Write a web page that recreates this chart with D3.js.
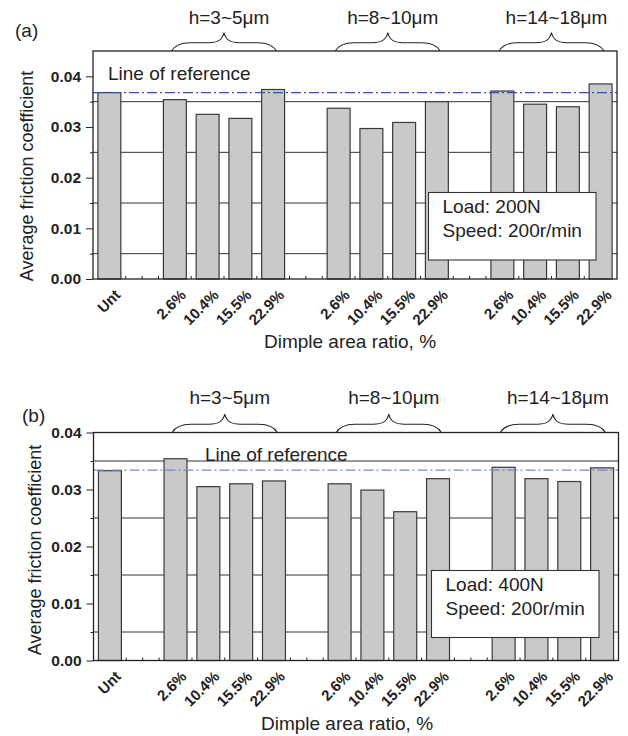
<!DOCTYPE html>
<html>
<head>
<meta charset="utf-8">
<script src="https://cdn.jsdelivr.net/npm/d3@7"></script>
<style>
  body { margin: 0; background: #fff; }
  svg text { font-family: "Liberation Sans", Arial, Helvetica, sans-serif; fill: #222; }
</style>
</head>
<body>
<div id="chart"></div>
<script>

// categories
const untreated = "Unt";
const ratioLabels = ["2.6%", "10.4%", "15.5%", "22.9%"];
const depthGroups = ["h=3~5μm", "h=8~10μm", "h=14~18μm"];

// average friction coefficient: Unt, then 4 ratios for each depth group
const friction200N = [0.0368, 0.0354, 0.0325, 0.0317, 0.0374, 0.0337, 0.0297, 0.0309, 0.0350, 0.0371, 0.0345, 0.0340, 0.0385];
const friction400N = [0.0333, 0.0354, 0.0305, 0.0310, 0.0315, 0.0310, 0.0299, 0.0261, 0.0319, 0.0339, 0.0319, 0.0314, 0.0338];
const referenceValues = [0.0368, 0.0334];

const yMaxValues = [0.045, 0.04];
const yTickValues = [0, 0.01, 0.02, 0.03, 0.04];
const panelTags = ["(a)", "(b)"];
const legendTexts = [["Load: 200N", "Speed: 200r/min"], ["Load: 400N", "Speed: 200r/min"]];

// slot keys for the x band scale (gaps between groups are empty slots)
const slotKeys = [untreated, "gap0"];
const barKeys = [untreated];
depthGroups.forEach((g, gi) => {
    ratioLabels.forEach(r => { slotKeys.push(gi + "|" + r); barKeys.push(gi + "|" + r); });
    if (gi < depthGroups.length - 1) slotKeys.push("gap" + (gi + 1));
});

const svg = d3.select("#chart").append("svg")
    .attr("width", 628)
    .attr("height", 736);

class FrictionPanel {

    constructor(svg, opts) {
        this.svg = svg;
        this.o = opts;
    }

    initVis() {
        let vis = this;
        let o = vis.o;
        vis.g = vis.svg.append("g");

        vis.x = d3.scaleBand()
            .domain(slotKeys)
            .range([o.left, o.right])
            .paddingInner(0.3)
            .paddingOuter(0.15);

        vis.y = d3.scaleLinear()
            .domain([0, o.yMax])
            .range([o.bottom, o.top]);

        vis.data = barKeys.map((k, i) => ({key: k, label: k.split("|").pop(), value: o.values[i]}));

        // horizontal lines half way between the labelled ticks
        let gridVals = d3.range(0.005, o.yMax - 0.0001, 0.01);
        vis.g.selectAll(".grid").data(gridVals).enter().append("line")
            .attr("class", "grid")
            .attr("x1", o.left).attr("x2", o.right)
            .attr("y1", d => vis.y(d)).attr("y2", d => vis.y(d))
            .attr("stroke", "#333").attr("stroke-width", 1);

        // y axis (major ticks outward, labels bold)
        let yAxis = vis.g.append("g")
            .attr("transform", "translate(" + o.left + ",0)")
            .call(d3.axisLeft(vis.y).tickValues(yTickValues).tickFormat(d3.format(".2f")).tickSize(7).tickPadding(5));
        yAxis.select(".domain").remove();
        yAxis.selectAll("line").attr("stroke", "#222");
        yAxis.selectAll("text")
            .style("font-size", "15.5px").style("font-weight", "bold").attr("fill", "#222");

        vis.g.append("g")
            .attr("transform", "translate(" + o.left + ",0)")
            .call(d3.axisLeft(vis.y).tickValues(gridVals).tickFormat("").tickSize(3))
            .call(a => a.select(".domain").remove())
            .selectAll("line").attr("stroke", "#222");

        // small inner ticks along the bottom
        let step = vis.x.step();
        let xTickPos = d3.range(0, slotKeys.length * 2 - 1).map(i => o.left + step * 0.5 + i * step / 2);
        vis.g.selectAll(".xtick").data(xTickPos).enter().append("line")
            .attr("x1", d => d).attr("x2", d => d)
            .attr("y1", o.bottom).attr("y2", o.bottom - 3)
            .attr("stroke", "#222");

        // bars
        vis.g.selectAll(".bar").data(vis.data).enter().append("rect")
            .attr("class", "bar")
            .attr("x", d => vis.x(d.key))
            .attr("width", vis.x.bandwidth())
            .attr("y", d => vis.y(d.value))
            .attr("height", d => vis.y(0) - vis.y(d.value))
            .attr("fill", "#c8c9cb")
            .attr("stroke", "#3a3a3a")
            .attr("stroke-width", 1.2);

        // reference line (dash-dot)
        vis.g.append("line")
            .attr("x1", o.left).attr("x2", o.right)
            .attr("y1", vis.y(o.ref)).attr("y2", vis.y(o.ref))
            .attr("stroke", o.refColor)
            .attr("stroke-width", 1.3)
            .attr("stroke-dasharray", "10,3,2,3");

        vis.g.append("text")
            .attr("x", o.refText[0]).attr("y", o.refText[1])
            .style("font-size", "19px")
            .text("Line of reference");

        // frame
        vis.g.append("rect")
            .attr("x", o.left).attr("y", o.top)
            .attr("width", o.right - o.left).attr("height", o.bottom - o.top)
            .attr("fill", "none").attr("stroke", "#222").attr("stroke-width", 1.3);

        // x labels
        vis.g.selectAll(".xlab").data(vis.data).enter().append("text")
            .attr("transform", d => "translate(" + (vis.x(d.key) + vis.x.bandwidth() / 2 + 12) + "," + (o.bottom + 17) + ") rotate(-45)")
            .attr("text-anchor", "end")
            .style("font-size", "15px").style("font-weight", "bold")
            .text(d => d.label);

        // braces + depth group labels
        depthGroups.forEach((g, gi) => {
            let first = vis.x(gi + "|" + ratioLabels[0]) + vis.x.bandwidth() / 2;
            let last = vis.x(gi + "|" + ratioLabels[ratioLabels.length - 1]) + vis.x.bandwidth() / 2;
            let xm = (first + last) / 2;
            let x1 = xm - 1.6 * step, x2 = xm + 1.6 * step;
            vis.g.append("path")
                .attr("d", vis.bracePath(x1, x2, o.top, 18.3))
                .attr("fill", "none").attr("stroke", "#222").attr("stroke-width", 1.1);
            vis.g.append("text")
                .attr("x", xm + 5).attr("y", o.top - o.groupDy)
                .attr("text-anchor", "middle")
                .style("font-size", "19px")
                .text(g);
        });

        // legend box
        let lg = o.legend;
        vis.g.append("rect")
            .attr("x", lg.x).attr("y", lg.y).attr("width", lg.w).attr("height", lg.h)
            .attr("fill", "#fff").attr("stroke", "#333").attr("stroke-width", 1.1);
        o.legendText.forEach((t, i) => {
            vis.g.append("text")
                .attr("x", lg.x + 14).attr("y", lg.y + 20.5 + i * 23.5)
                .style("font-size", "19px")
                .text(t);
        });

        // titles
        vis.g.append("text")
            .attr("x", o.xTitle[0]).attr("y", o.xTitle[1])
            .attr("text-anchor", "middle")
            .style("font-size", "19px")
            .text("Dimple area ratio, %");

        vis.g.append("text")
            .attr("transform", "translate(" + o.yTitle[0] + "," + o.yTitle[1] + ") rotate(-90)")
            .attr("text-anchor", "middle")
            .style("font-size", "18px")
            .text("Average friction coefficient");

        vis.g.append("text")
            .attr("x", o.tag[0]).attr("y", o.tag[1])
            .style("font-size", "19px")
            .text(o.tagText);
    }

    // curly brace opening downwards, ends sitting on yb
    bracePath(x1, x2, yb, h) {
        let w = (x2 - x1) / 2, xm = (x1 + x2) / 2;
        let ys = yb - 0.45 * h, yt = yb - h;
        let p = d3.path();
        p.moveTo(x1, yb);
        p.bezierCurveTo(x1 + 0.06 * w, ys + 0.15 * h, x1 + 0.15 * w, ys, x1 + 0.35 * w, ys);
        p.lineTo(xm - 0.3 * w, ys);
        p.bezierCurveTo(xm - 0.12 * w, ys, xm - 0.03 * w, ys - 0.15 * h, xm, yt);
        p.bezierCurveTo(xm + 0.03 * w, ys - 0.15 * h, xm + 0.12 * w, ys, xm + 0.3 * w, ys);
        p.lineTo(x2 - 0.35 * w, ys);
        p.bezierCurveTo(x2 - 0.15 * w, ys, x2 - 0.06 * w, ys + 0.15 * h, x2, yb);
        return p.toString();
    }
}

let panelA = new FrictionPanel(svg, {
    left: 93, right: 617, top: 51, bottom: 279,
    yMax: yMaxValues[0], values: friction200N, ref: referenceValues[0], refColor: "#2f50c2",
    refText: [108, 80], groupDy: 27, legend: {x: 428.5, y: 192.5, w: 167.5, h: 67.5},
    legendText: legendTexts[0], xTitle: [350, 348], yTitle: [33, 176], tag: [15, 37], tagText: panelTags[0]
});
panelA.initVis();

let panelB = new FrictionPanel(svg, {
    left: 93.5, right: 618.5, top: 432.5, bottom: 660.5,
    yMax: yMaxValues[1], values: friction400N, ref: referenceValues[1], refColor: "#6f89cf",
    refText: [205, 461], groupDy: 28.5, legend: {x: 431.5, y: 570.5, w: 167.5, h: 67},
    legendText: legendTexts[1], xTitle: [347, 730], yTitle: [41, 550], tag: [22, 422], tagText: panelTags[1]
});
panelB.initVis();

</script>
</body>
</html>
